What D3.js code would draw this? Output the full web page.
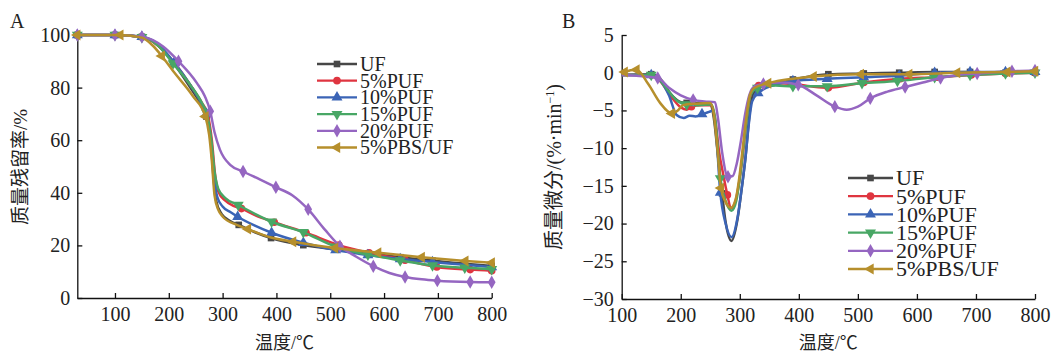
<!DOCTYPE html>
<html>
<head>
<meta charset="utf-8">
<script src="https://cdn.jsdelivr.net/npm/d3@7"></script>
<style>
body{margin:0;background:#fff}
svg text{font-family:"Liberation Serif","Times New Roman","Noto Sans CJK SC",serif;fill:#222}
</style>
</head>
<body>
<svg width="1053" height="352"></svg>
<script>
var seriesNames = ["UF","5%PUF","10%PUF","15%PUF","20%PUF","5%PBS/UF"];
var seriesColors = ["#474747","#df3540","#3b64b6","#48a765","#9566c1","#b68f2c"];
var seriesSymbols = [d3.symbolSquare, d3.symbolCircle, d3.symbolTriangle, d3.symbolTriangle, d3.symbolDiamond, d3.symbolTriangle];
var symbolRotate = [0, 0, 0, 180, 0, -90];
var symbolSize = [44, 46, 52, 52, 52, 52];

// TGA, residual mass (%) vs temperature
var tgaUF = [[30,100],[100,100],[150,99.3],[180,96],[210,89],[240,80],[260,73.5],[270,69],[278,60],[283,46],[288,37],[298,32],[315,29.2],[330,27.8],[360,25],[390,22.8],[450,20.1],[510,18.5],[570,17],[630,15.5],[690,14.2],[750,13],[800,12.2]];
var tgaUFMarks = [30,100,150,210,270,330,390,450,510,570,630,690,750,800];
var tgaP5 = [[30,100],[100,100],[150,99.2],[180,96],[210,89.5],[240,81],[262,74],[272,70],[280,60],[286,47],[292,40.5],[305,37],[320,35],[335,34],[360,31.5],[396,28.8],[455,24.8],[516,20.1],[572,17.2],[639,14.4],[698,11.8],[760,10.8],[800,10.4]];
var tgaP5Marks = [30,100,150,210,272,335,396,455,516,572,639,698,760,800];
var tgaP10 = [[30,100],[100,100],[150,99.3],[180,96.5],[210,89.5],[240,81],[262,73.5],[270,70],[278,60],[284,46],[290,38.5],[300,34.8],[315,32.6],[328,30.9],[360,27.5],[391,24.8],[450,21],[510,18.2],[570,16.3],[630,14.8],[690,13.7],[750,12.6],[800,11.8]];
var tgaP10Marks = [30,100,150,210,270,328,391,450,510,570,630,690,750,800];
var tgaP15 = [[30,100],[100,100],[150,99.2],[180,96],[208,89.2],[240,81],[262,74],[270,70.5],[279,60],[285,48],[292,41.5],[305,38],[329,35.4],[360,32],[391,29],[450,25],[510,19.5],[570,16.5],[630,14.3],[690,12.4],[750,11.5],[800,11]];
var tgaP15Marks = [30,100,150,208,270,329,391,450,510,570,630,690,750,800];
var tgaP20 = [[30,100],[100,100],[150,99.3],[190,95.5],[218,90],[252,81.8],[267,76.7],[277,71],[285,63],[295,56.4],[314,50.6],[338,48.1],[370,45],[399,42.1],[430,39],[459,33.7],[490,26],[518,19.7],[550,15.5],[580,12.1],[610,9.5],[639,8],[670,7.1],[699,6.6],[760,6.1],[800,6]];
var tgaP20Marks = [30,100,150,218,277,338,399,459,518,580,639,699,760,800];
var tgaPBS = [[30,100],[110,100],[150,99],[170,96],[187,92],[208,86.3],[245,76.7],[268,69],[275,62],[280,52],[285,39],[292,33.5],[300,31],[326,27.8],[347,26.2],[390,23],[431,21.4],[509,19],[589,17.2],[670,15.5],[751,14.1],[800,13.4]];
var tgaPBSMarks = [30,110,187,268,347,431,509,589,670,751,800];

// DTG, mass derivative (%/min) vs temperature
var dtgUF = [[100,-0.3],[150,-0.2],[165,-0.8],[185,-3],[200,-3.9],[210,-4],[235,-4],[250,-4.2],[256,-6],[263,-11],[270,-16],[276,-19.8],[286,-22.3],[296,-19.5],[303,-15.5],[310,-11],[315,-6.7],[320,-3.5],[330,-2],[360,-1.4],[390,-0.9],[450,-0.2],[510,-0.1],[570,0],[630,0.1],[690,0.1],[750,0],[800,0]];
var dtgUFMarks = [150,210,270,330,390,450,510,570,630,690,750,800];
var dtgP5 = [[100,-0.3],[150,-0.3],[165,-1.1],[185,-3.3],[200,-4.6],[210,-4.9],[218,-4.5],[235,-4.3],[252,-4.3],[258,-6],[265,-10.5],[272,-13.5],[279,-16.2],[285,-18],[292,-17.2],[298,-15],[305,-11],[311,-6.5],[317,-3.3],[325,-2],[332,-1.7],[360,-1.4],[392,-1.5],[420,-1.8],[450,-2],[510,-1.3],[572,-0.8],[634,-0.6],[692,-0.3],[750,-0.1],[800,0]];
var dtgP5Marks = [150,218,279,332,392,450,510,572,634,692,750,800];
var dtgP10 = [[100,-0.3],[150,-0.3],[165,-1],[180,-3],[193,-5.6],[205,-6],[215,-5.7],[225,-5.8],[236,-5.5],[248,-5.2],[254,-5],[259,-7],[267,-15.9],[276,-20],[286,-21.8],[296,-19.3],[303,-15.5],[310,-11],[315,-7],[321,-3.8],[331,-2.7],[360,-1.6],[390,-1.1],[448,-0.8],[510,-0.6],[570,-0.4],[630,0],[690,0.1],[750,0.1],[800,0.1]];
var dtgP10Marks = [150,236,267,331,390,448,510,570,630,690,750,800];
var dtgP15 = [[100,-0.3],[150,-0.3],[165,-1],[180,-2.5],[195,-3.8],[210,-4.2],[230,-4.3],[252,-4.2],[258,-6],[267,-14],[276,-17],[286,-18.3],[294,-17],[300,-14],[306,-10],[312,-6],[318,-3],[330,-2],[360,-1.7],[390,-1.8],[448,-1.8],[507,-1.4],[567,-1.1],[630,-0.6],[690,-0.3],[750,-0.1],[800,0]];
var dtgP15Marks = [150,210,267,330,390,448,507,567,630,690,750,800];
var dtgP20 = [[100,-0.3],[161,-0.7],[180,-2],[200,-3],[221,-3.6],[240,-3.8],[258,-3.9],[263,-6],[270,-10.5],[280,-13.8],[288,-13.7],[295,-12],[302,-9],[309,-5.5],[316,-3],[325,-1.8],[340,-1.5],[370,-1.3],[399,-1.6],[430,-3],[461,-4.5],[481,-4.9],[500,-4.5],[521,-3.4],[550,-2.5],[580,-1.9],[610,-1.3],[640,-0.7],[670,-0.3],[702,-0.1],[761,0.2],[800,0.3]];
var dtgP20Marks = [161,221,280,340,399,461,521,580,640,702,761,800];
var dtgPBS = [[100,-0.2],[105,0.1],[125,0.4],[145,-1.5],[165,-4],[185,-5.4],[195,-5],[204,-4.3],[225,-4.1],[250,-4],[256,-5.5],[262,-10],[268,-15.3],[275,-17],[285,-17.9],[293,-16.8],[299,-14],[305,-10],[311,-6],[317,-3],[325,-2],[348,-1.4],[390,-0.8],[425,-0.5],[505,-0.2],[587,-0.2],[668,0],[753,0.1],[800,0.2]];
var dtgPBSMarks = [105,125,185,268,348,425,505,587,668,753,800];

var tgaXTicks = [100,200,300,400,500,600,700,800];
var tgaYTicks = [0,20,40,60,80,100];
var dtgXTicks = [100,200,300,400,500,600,700,800];
var dtgYTicks = [-30,-25,-20,-15,-10,-5,0,5];

var svg = d3.select('svg');

function drawPanel(o){
	var x = d3.scaleLinear().domain(o.xDomain).range([o.left, o.right]);
	var y = d3.scaleLinear().domain(o.yDomain).range([o.bottom, o.top]);

	var xAxis = svg.append('g')
		.attr('transform', 'translate(0,' + o.bottom + ')')
		.call(d3.axisBottom(x).tickValues(o.xTicks).tickSizeInner(-5).tickSizeOuter(0).tickPadding(9));
	var yAxis = svg.append('g')
		.attr('transform', 'translate(' + o.left + ',0)')
		.call(d3.axisLeft(y).tickValues(o.yTicks).tickSizeInner(-5).tickSizeOuter(0).tickPadding(o.yPad));

	[xAxis, yAxis].forEach(function(a){
		a.attr('font-family', null).attr('font-size', null);
		a.selectAll('path,line').attr('stroke', '#111').attr('stroke-width', 1.3);
		a.selectAll('text').style('font-size', '20px').attr('fill', '#222');
	});

	var line = d3.line()
		.x(function(d){ return x(d[0]) })
		.y(function(d){ return y(d[1]) })
		.curve(d3.curveMonotoneX);

	o.series.forEach(function(s, i){
		svg.append('path')
			.datum(s)
			.attr('d', line)
			.attr('fill', 'none')
			.attr('stroke', seriesColors[i])
			.attr('stroke-width', 2.5)
			.attr('stroke-linejoin', 'round');

		var pts = s.filter(function(d){ return o.marks[i].indexOf(d[0]) >= 0 });
		svg.selectAll(null)
			.data(pts)
			.enter()
			.append('path')
			.attr('d', d3.symbol().type(seriesSymbols[i]).size(symbolSize[i]))
			.attr('transform', function(d){ return 'translate(' + x(d[0]) + ',' + y(d[1]) + ') rotate(' + symbolRotate[i] + ')' })
			.attr('fill', seriesColors[i]);
	});

	// legend
	seriesNames.forEach(function(name, i){
		var ly = o.legY + i * o.legStep;
		svg.append('line')
			.attr('x1', o.legX).attr('x2', o.legX + o.legLen)
			.attr('y1', ly).attr('y2', ly)
			.attr('stroke', seriesColors[i]).attr('stroke-width', 2.3);
		svg.append('path')
			.attr('d', d3.symbol().type(seriesSymbols[i]).size(symbolSize[i]))
			.attr('transform', 'translate(' + (o.legX + o.legLen / 2) + ',' + ly + ') rotate(' + symbolRotate[i] + ')')
			.attr('fill', seriesColors[i]);
		svg.append('text')
			.attr('x', o.legX + o.legLen + 3)
			.attr('y', ly + o.legFont * 0.34)
			.style('font-size', o.legFont + 'px')
			.text(name);
	});

	svg.append('text')
		.attr('x', o.panelX).attr('y', 28)
		.style('font-size', '20px')
		.text(o.panel);

	svg.append('text')
		.attr('x', (o.left + o.right) / 2).attr('y', 349)
		.attr('text-anchor', 'middle')
		.style('font-size', '18px')
		.text('温度/℃');

	var yt = svg.append('text')
		.attr('transform', 'translate(' + o.yTitleX + ',167) rotate(-90)')
		.attr('text-anchor', 'middle')
		.style('font-size', o.yTitleFont + 'px');
	o.yTitle.forEach(function(t){
		var ts = yt.append('tspan').text(t[0]);
		if (t[1]) ts.attr('baseline-shift', 'super').style('font-size', '12px');
	});
}

drawPanel({
	panel: 'A', panelX: 10,
	xDomain: [30, 800], yDomain: [0, 100],
	left: 77.3, right: 491.7, top: 35, bottom: 298,
	xTicks: tgaXTicks, yTicks: tgaYTicks, yPad: 7,
	series: [tgaUF, tgaP5, tgaP10, tgaP15, tgaP20, tgaPBS],
	marks: [tgaUFMarks, tgaP5Marks, tgaP10Marks, tgaP15Marks, tgaP20Marks, tgaPBSMarks],
	legX: 317, legLen: 40, legY: 64, legStep: 16.7, legFont: 20,
	yTitle: [['质量残留率/%']], yTitleX: 27, yTitleFont: 19
});

drawPanel({
	panel: 'B', panelX: 562,
	xDomain: [100, 800], yDomain: [-30, 5],
	left: 621.7, right: 1035, top: 35, bottom: 299,
	xTicks: dtgXTicks, yTicks: dtgYTicks, yPad: 8,
	series: [dtgUF, dtgP5, dtgP10, dtgP15, dtgP20, dtgPBS],
	marks: [dtgUFMarks, dtgP5Marks, dtgP10Marks, dtgP15Marks, dtgP20Marks, dtgPBSMarks],
	legX: 848, legLen: 45, legY: 178, legStep: 18.2, legFont: 22,
	yTitle: [['质量微分/(%·min'], ['−1', true], [')']], yTitleX: 561, yTitleFont: 20
});
</script>
</body>
</html>
